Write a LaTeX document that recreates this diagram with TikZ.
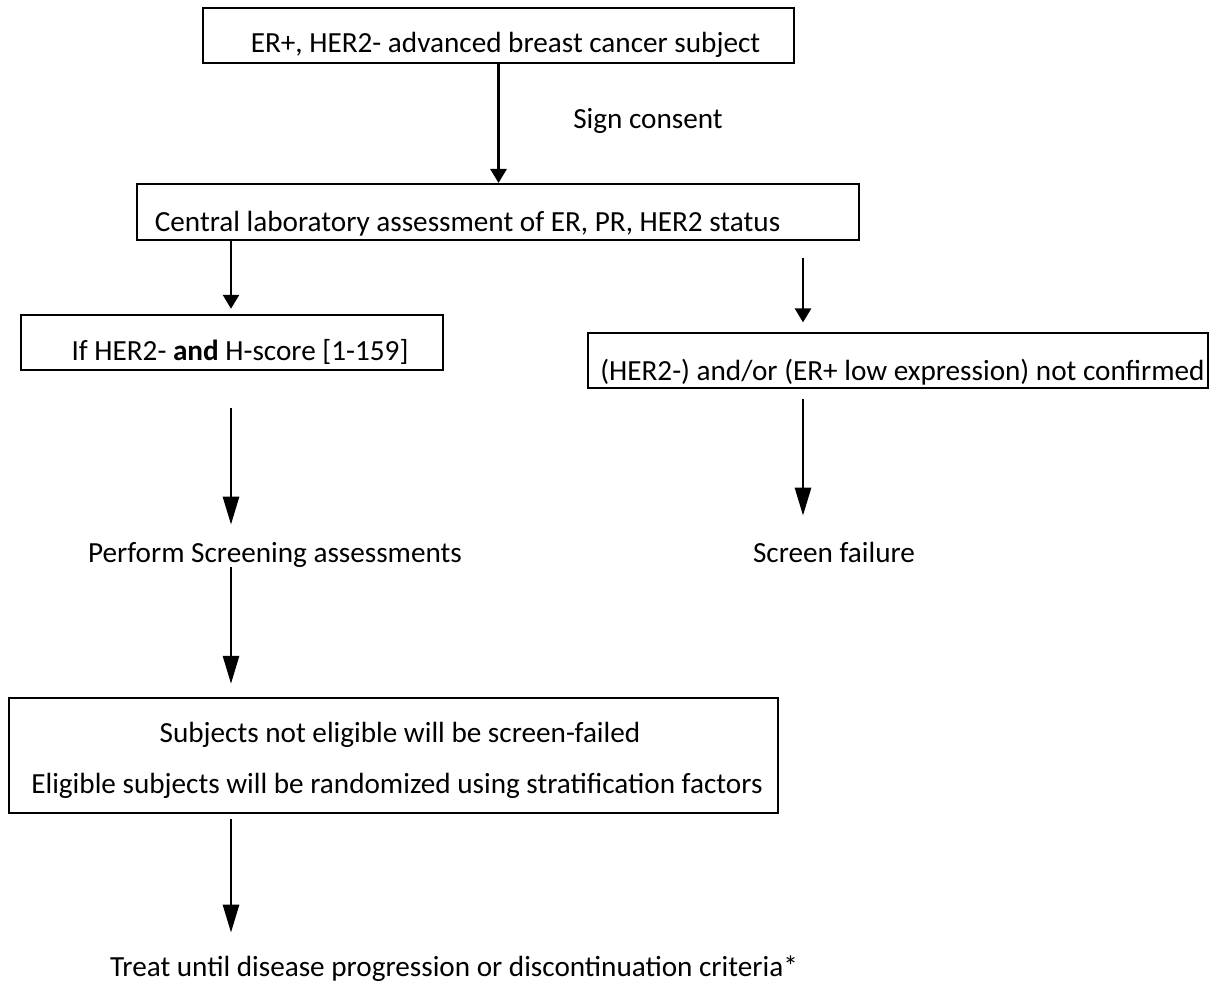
\documentclass[tikz,border=0pt]{standalone}
\usepackage{fontspec}
\setmainfont{Carlito}
\usepackage{tikz}
\usetikzlibrary{arrows.meta}
\tikzset{%
  tipS/.tip={Triangle[length=7pt,width=8pt]},
  tipL/.tip={Triangle[length=14pt,width=8pt]}
}
\tikzset{%
  box/.style={draw, line width=1pt, inner sep=0pt},
  txt/.style={inner sep=0pt, text height=10pt, text depth=2.5pt, anchor=base, font=\fontsize{14.6}{17}\selectfont},
  arrS/.style={line width=1.3pt, -tipS},
  arrL/.style={line width=1.4pt, -tipL}
}

\begin{document}
\begin{tikzpicture}[x=0.5pt,y=-0.5pt]
\useasboundingbox (0,0) rectangle (1220,994);
\coordinate (lcol) at (231,0);
\coordinate (rcol) at (803,0);
% boxes
\node[box, minimum width=295.5pt, minimum height=27.5pt] (b1) at (498.5,35.5) {};
\node[box, minimum width=361pt, minimum height=28pt] (b2) at (498,212) {};
\node[box, line width=1.2pt, minimum width=211pt, minimum height=27.5pt] (b3) at (232,342.5) {};
\node[box, line width=0.6pt, minimum width=310pt, minimum height=27.5pt] (b4) at (898,360.5) {};
\node[box, line width=1.2pt, minimum width=384.5pt, minimum height=57.5pt] (b5) at (393.5,755.5) {};
% texts
\node[txt] (t1) at (505.5,53) {ER+, HER2- advanced breast cancer subject};
\node[txt] (consent) at (648,129) {Sign consent};
\node[txt] (t2) at (467.5,232) {Central laboratory assessment of ER, PR, HER2 status};
\node[txt] (t3) at (240,361) {If HER2- \textbf{and} H-score [1-159]};
\node[txt] (t4) at (902.5,380) {(HER2-) and/or (ER+ low expression) not confirmed};
\node[txt] (perf) at (275,562) {Perform Screening assessments};
\node[txt] (fail) at (834,562) {Screen failure};
\node[txt] (elig1) at (400,742) {Subjects not eligible will be screen-failed};
\node[txt] (elig2) at (397,793) {Eligible subjects will be randomized using stratification factors};
\node[txt] (treat) at (454,976) {Treat until disease progression or discontinuation criteria*};
% arrows
\draw[arrS] (b1.south) -- (b2.north -| b1.south);
\draw[arrS, shorten >=2.5pt] (b2.south -| lcol) -- (b3.north -| lcol);
\draw[arrS, shorten <=8.5pt, shorten >=5pt] (b2.south -| rcol) -- (b4.north -| rcol);
\draw[arrL, shorten <=18.5pt, shorten >=8.5pt] (b3.south -| lcol) -- (perf.north -| lcol);
\draw[arrL, shorten >=6.5pt] (perf.south -| lcol) -- (b5.north -| lcol);
\draw[arrL, shorten <=5pt, shorten >=13pt] (b4.south -| rcol) -- (fail.north -| rcol);
\draw[arrL, shorten <=2.5pt, shorten >=11.5pt] (b5.south -| lcol) -- (treat.north -| lcol);
\end{tikzpicture}
\end{document}
